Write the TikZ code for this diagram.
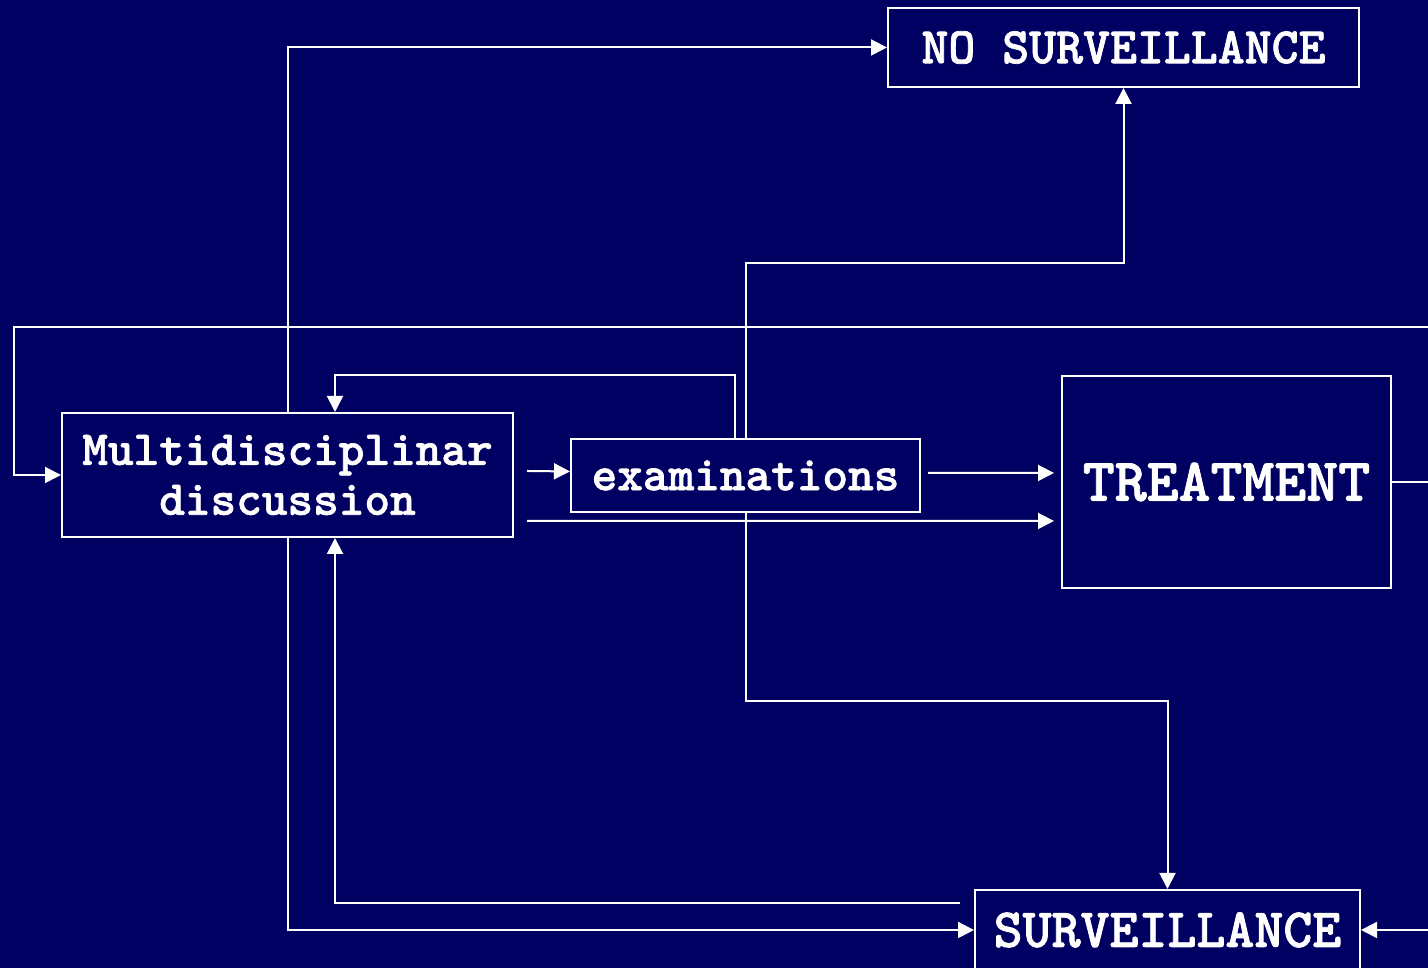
\documentclass[tikz,border=0pt]{standalone}
\usepackage{fontspec}
\newfontfamily\heavymono{lmmonolt10-bold.otf}[FakeBold=1.4]
\usetikzlibrary{arrows.meta}
\definecolor{navy}{RGB}{0,0,98}
\begin{document}
\begin{tikzpicture}[
    blockbox/.style={draw=white, line width=0.2mm, text=white, align=center, inner sep=0pt},
    link/.style={draw=white, line width=0.2mm, -{Triangle[length=1.6mm, width=1.6mm]}},
    plain/.style={draw=white, line width=0.2mm}
]
    \fill[navy] (0, 0) rectangle (14.28, 9.68);
    \useasboundingbox (0, 0) rectangle (14.28, 9.68);
    \node[blockbox, minimum width=4.71cm, minimum height=0.79cm, font=\heavymono\fontsize{14.6}{16}\selectfont] (nosurv) at (11.235, 9.205) {NO SURVEILLANCE};
    \node[blockbox, minimum width=4.51cm, minimum height=1.24cm, font=\heavymono\fontsize{13.9}{14.2}\selectfont] (multi) at (2.875, 4.93) {Multidisciplinar\\discussion};
    \node[blockbox, minimum width=3.49cm, minimum height=0.73cm, font=\heavymono\fontsize{13.9}{16}\selectfont] (exam) at (7.455, 4.925) {examinations};
    \node[blockbox, minimum width=3.29cm, minimum height=2.12cm, font=\heavymono\fontsize{17.3}{19}\selectfont] (treat) at (12.265, 4.86) {TREATMENT};
    \node[blockbox, minimum width=3.85cm, minimum height=0.80cm, font=\heavymono\fontsize{15.7}{17}\selectfont] (surv) at (11.675, 0.38) {SURVEILLANCE};
    \coordinate (loopin) at (14.28, 6.41);
    \coordinate (loopcorner) at (0.14, 6.41);
    \coordinate (treatout) at (14.28, 4.86);
    \coordinate (survin) at (14.28, 0.38);
    \coordinate (upturn) at (11.235, 7.05);
    \coordinate (downturn) at (11.675, 2.67);
    \coordinate (survback) at (9.60, 0.65);
    \draw[link] (multi.north) |- (nosurv.west);
    \draw[link] (multi.south) |- (surv.west);
    \draw[link] (loopin) -- (loopcorner) |- (multi.west);
    \draw[plain] (treat.east) -- (treatout);
    \draw[link] (survin) -- (surv.east);
    \draw[link] (exam.north) |- (upturn) -- (nosurv.south);
    \draw[link] (exam.south) |- (downturn) -- (surv.north);
    \draw[link] ([xshift=-1.05mm]exam.north) -- ++(0, 0.63) -| ([xshift=4.75mm]multi.north);
    \draw[link] (survback) -| ([xshift=4.75mm]multi.south);
    \draw[link] ([shift={(1.3mm, 0.4mm)}]multi.east) -- ([yshift=0.4mm]exam.west);
    \draw[link, shorten >=0.7mm] ([shift={(0.7mm, 0.25mm)}]exam.east) -- ([yshift=0.9mm]treat.west);
    \draw[link, shorten >=0.7mm] ([shift={(1.3mm, -4.6mm)}]multi.east) -- ([yshift=-3.9mm]treat.west);
\end{tikzpicture}
\end{document}
